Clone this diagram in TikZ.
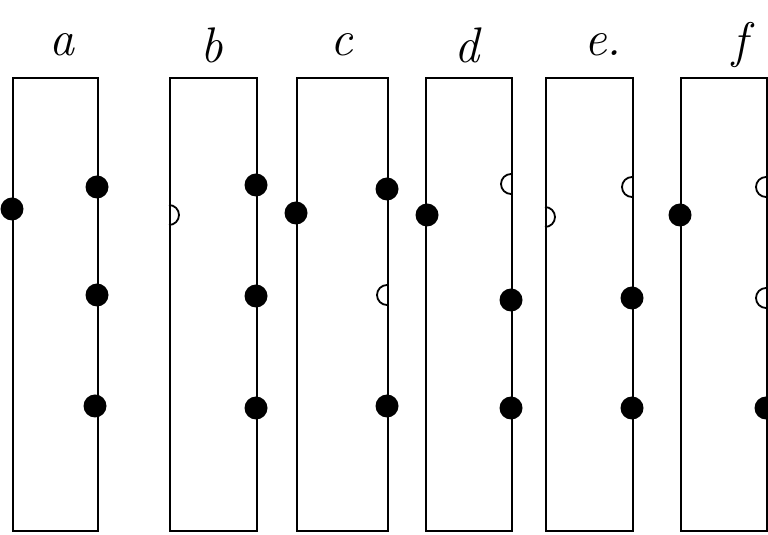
\documentclass[tikz,border=0pt]{standalone}
\begin{document}
\begin{tikzpicture}[x=1pt,y=1pt,
  panel/.style={draw,line width=1.8pt,anchor=north west,inner sep=0pt},
  lab/.style={font=\fontsize{50}{50}\selectfont\itshape,inner sep=0pt},
  full/.style={circle,fill=black,minimum size=23pt,inner sep=0pt},
  half/.style={line width=1.8pt}]
\useasboundingbox (0,0) rectangle (768,535);
\clip (0,0) rectangle (768,535);
% panels: left x, right x ; top y=77, bottom y=530 (image coords)
\foreach \n/\l/\r in {a/12/97,b/169/256,c/296/387,d/425/511,e/545/632,f/680/766}{
  \node[panel,minimum width=\r pt-\l pt,minimum height=453pt] (box\n) at (\l,458) {};
}
% labels
\node[lab] (la) at (62,490) {a};
\node[lab] (lb) at (212,490) {b};
\node[lab] (lc) at (342,490) {c};
\node[lab] (ld) at (467,490) {d};
\node[lab] (le) at (603,490) {e.};
\node[lab] (lf) at (740,490) {f};
% panel a
\node[full] (a1) at (12,326) {};
\node[full] (a2) at (97,348) {};
\node[full] (a3) at (97,240) {};
\node[full] (a4) at (95,129) {};
% panel b
\draw[half] (169,330) arc[start angle=90,end angle=-90,radius=10];
\node[full] (b2) at (256,350) {};
\node[full] (b3) at (256,239) {};
\node[full] (b4) at (256,127) {};
% panel c
\node[full] (c1) at (296,322) {};
\node[full] (c2) at (387,346) {};
\draw[half] (387,250) arc[start angle=90,end angle=270,radius=10];
\node[full] (c4) at (387,129) {};
% panel d
\node[full] (d1) at (427,320) {};
\draw[half] (511,361) arc[start angle=90,end angle=270,radius=10];
\node[full] (d3) at (511,235) {};
\node[full] (d4) at (511,127) {};
% panel e
\draw[half] (545,328) arc[start angle=90,end angle=-90,radius=10];
\draw[half] (632,358) arc[start angle=90,end angle=270,radius=10];
\node[full] (e3) at (632,237) {};
\node[full] (e4) at (632,127) {};
% panel f
\node[full] (f1) at (680,320) {};
\draw[half] (766,358) arc[start angle=90,end angle=270,radius=10];
\draw[half] (766,247) arc[start angle=90,end angle=270,radius=10];
\node[full] (f4) at (766,127) {};
\end{tikzpicture}
\end{document}
